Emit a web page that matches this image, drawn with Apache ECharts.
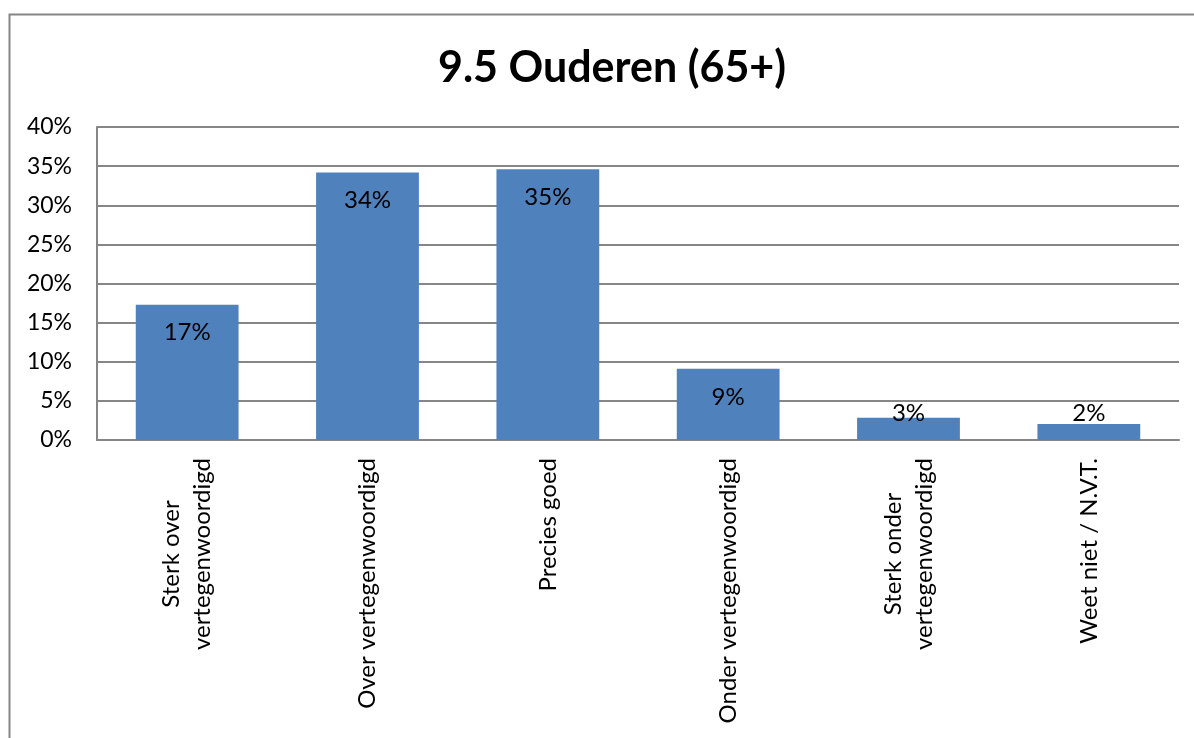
<!DOCTYPE html>
<html>
<head>
<meta charset="utf-8">
<script src="https://cdn.jsdelivr.net/npm/echarts@6/dist/echarts.min.js"></script>
<style>
  html, body { margin: 0; padding: 0; background: #fff; }
  #chart { width: 1194px; height: 738px; }
</style>
</head>
<body>
<div id="chart"></div>
<script>
const categories = [
  "Sterk over\nvertegenwoordigd",
  "Over vertegenwoordigd",
  "Precies goed",
  "Onder vertegenwoordigd",
  "Sterk onder\nvertegenwoordigd",
  "Weet niet / N.V.T.",
];
const values = [17.3, 34.2, 34.6, 9.1, 2.85, 2.05];
const yTicks = { min: 0, max: 40, interval: 5 };

const font = "Lato, 'Open Sans', sans-serif";
const gray = "#868686";

const chart = echarts.init(document.getElementById("chart"));

// small bars get their label lifted above the bar, like Excel does
const barData = values.map((v) => {
  if (v < 5) {
    return { value: v, label: { position: "insideBottom", distance: 15 } };
  }
  return v;
});

chart.setOption({
  backgroundColor: "#fff",
  animation: false,
  graphic: [
    {
      type: "rect",
      shape: { x: 9.5, y: 14.5, width: 1200, height: 800 },
      style: { fill: "none", stroke: gray, lineWidth: 2 },
      silent: true,
    },
  ],
  title: {
    text: "9.5 Ouderen (65+)",
    left: 607,
    top: 42,
    textAlign: "center",
    textStyle: { fontFamily: font, fontSize: 43, fontWeight: "bold", color: "#000" },
  },
  grid: { left: 97, right: 15, top: 127, bottom: 298, containLabel: false, outerBoundsMode: "none" },
  xAxis: {
    type: "category",
    data: categories,
    axisLine: { lineStyle: { color: gray, width: 2 } },
    axisTick: { show: false },
    axisLabel: {
      rotate: 90,
      margin: 18,
      interval: 0,
      color: "#000",
      fontFamily: font,
      fontSize: 24,
      lineHeight: 31,
      formatter: (v) => v.split("\n").map((s) => `{c|${s}}`).join("\n"),
      rich: { c: { align: "center", fontFamily: font, fontSize: 24, lineHeight: 31, color: "#000" } },
    },
  },
  yAxis: {
    type: "value",
    min: yTicks.min,
    max: yTicks.max,
    interval: yTicks.interval,
    axisLine: { show: true, lineStyle: { color: gray, width: 2 } },
    axisTick: { show: false },
    splitLine: { lineStyle: { color: gray, width: 2 } },
    axisLabel: {
      formatter: "{value}%",
      margin: 25,
      color: "#000",
      fontFamily: font,
      fontSize: 23,
    },
  },
  series: [
    {
      type: "bar",
      data: barData,
      barWidth: "57%",
      itemStyle: { color: "#4F81BD" },
      label: {
        show: true,
        position: "insideTop",
        distance: 16,
        color: "#000",
        fontFamily: font,
        fontSize: 24,
        formatter: (p) => Math.round(p.value) + "%",
      },
    },
  ],
});
</script>
</body>
</html>
